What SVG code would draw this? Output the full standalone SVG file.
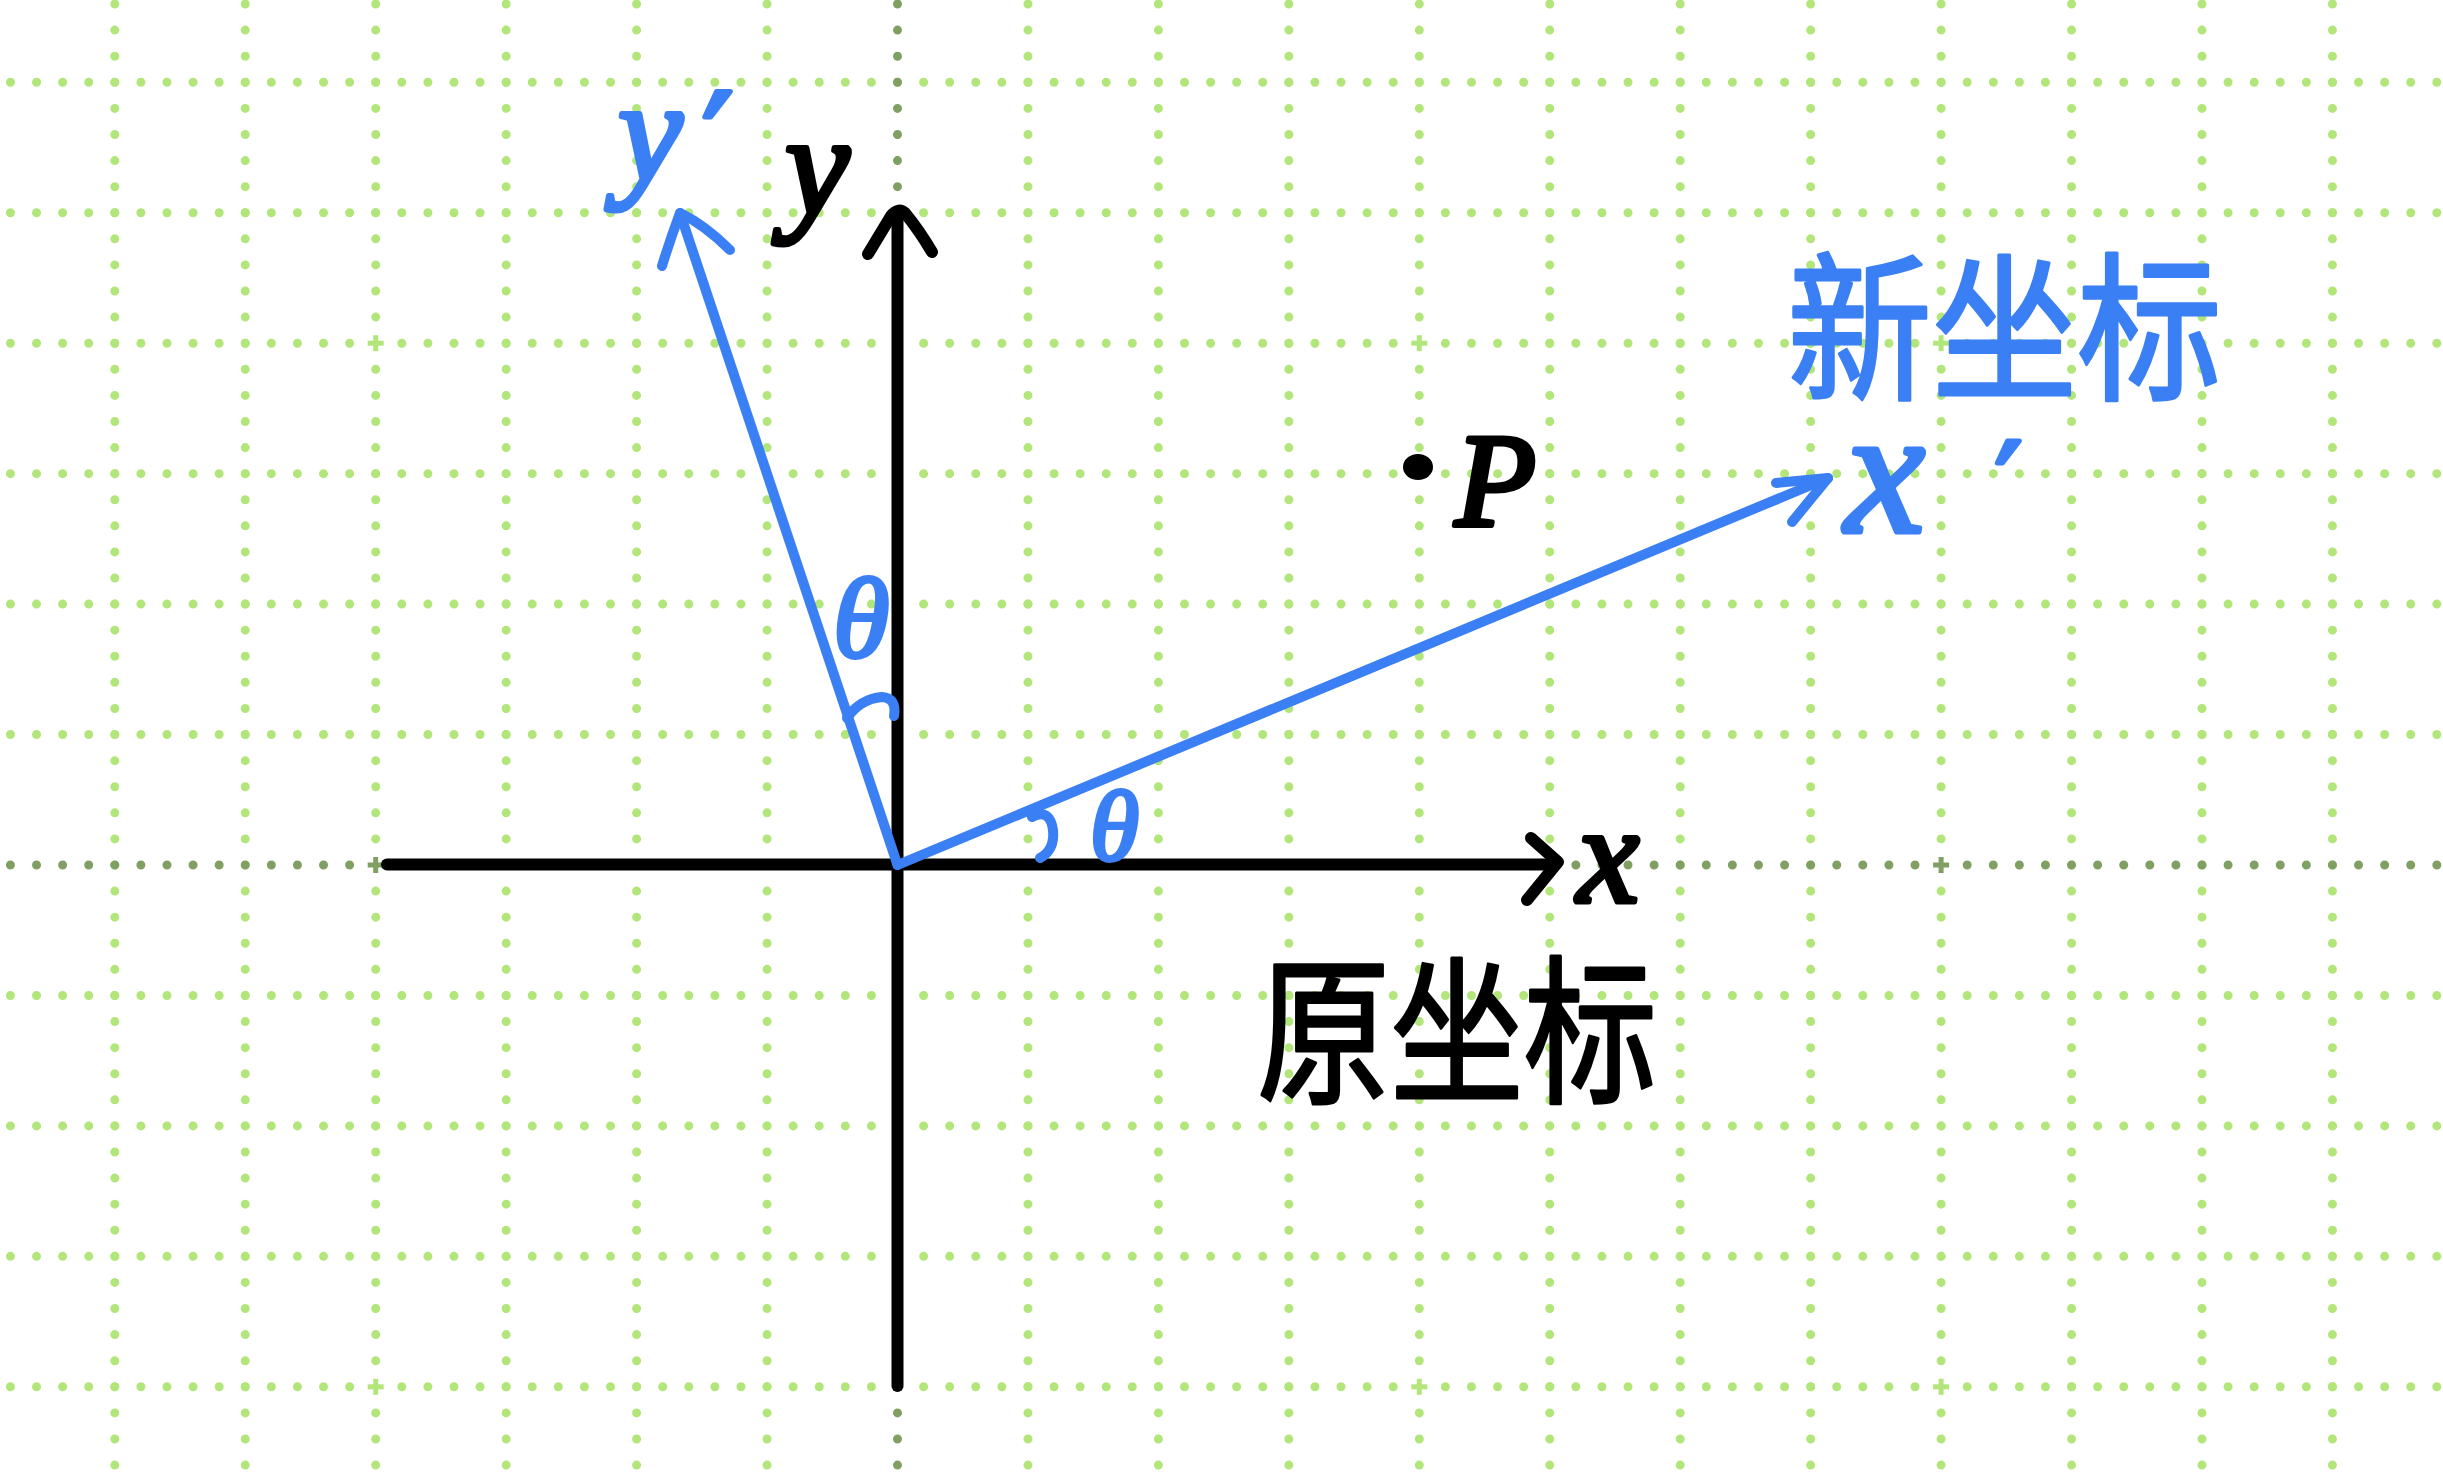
<svg xmlns="http://www.w3.org/2000/svg" width="2443" height="1477" viewBox="0 0 2443 1477">
<style>
.gl{stroke:#b2e67b;stroke-width:9;stroke-linecap:round;stroke-dasharray:0 26.09;fill:none}
.gd{stroke:#80a063;stroke-width:9;stroke-linecap:round;stroke-dasharray:0 26.09;fill:none}
.ax{stroke:#000;stroke-width:12;stroke-linecap:round;stroke-linejoin:round;fill:none}
.bl{stroke:#3a7ff3;stroke-width:10;stroke-linecap:round;stroke-linejoin:round;fill:none}
.lt{font-family:'Liberation Serif',serif;font-style:italic;stroke-linejoin:round}
.pr{font-family:'DejaVu Sans',sans-serif;font-style:normal}
.cjk{font-family:'Noto Sans CJK SC','Noto Sans CJK JP',sans-serif;stroke-linejoin:round}
.k{fill:#000;stroke:#000}
.b{fill:#3a7ff3;stroke:#3a7ff3}
</style>
<defs>
<g id="pl"><circle r="7" fill="#fff"/><rect x="-8" y="-2.5" width="16" height="5"/><rect x="-2.5" y="-8" width="5" height="16"/></g>
</defs>
<rect width="2443" height="1477" fill="#fff"/>
<g id="grid">
<line class="gl" x1="10.44" y1="82.3" x2="2450" y2="82.3"/>
<line class="gl" x1="10.44" y1="212.75" x2="2450" y2="212.75"/>
<line class="gl" x1="10.44" y1="343.2" x2="2450" y2="343.2"/>
<line class="gl" x1="10.44" y1="473.65" x2="2450" y2="473.65"/>
<line class="gl" x1="10.44" y1="604.1" x2="2450" y2="604.1"/>
<line class="gl" x1="10.44" y1="734.55" x2="2450" y2="734.55"/>
<line class="gl" x1="10.44" y1="995.45" x2="2450" y2="995.45"/>
<line class="gl" x1="10.44" y1="1125.9" x2="2450" y2="1125.9"/>
<line class="gl" x1="10.44" y1="1256.35" x2="2450" y2="1256.35"/>
<line class="gl" x1="10.44" y1="1386.8" x2="2450" y2="1386.8"/>
<line class="gl" x1="114.8" y1="4.03" x2="114.8" y2="1480"/>
<line class="gl" x1="245.25" y1="4.03" x2="245.25" y2="1480"/>
<line class="gl" x1="375.7" y1="4.03" x2="375.7" y2="1480"/>
<line class="gl" x1="506.15" y1="4.03" x2="506.15" y2="1480"/>
<line class="gl" x1="636.6" y1="4.03" x2="636.6" y2="1480"/>
<line class="gl" x1="767.05" y1="4.03" x2="767.05" y2="1480"/>
<line class="gl" x1="1027.95" y1="4.03" x2="1027.95" y2="1480"/>
<line class="gl" x1="1158.4" y1="4.03" x2="1158.4" y2="1480"/>
<line class="gl" x1="1288.85" y1="4.03" x2="1288.85" y2="1480"/>
<line class="gl" x1="1419.3" y1="4.03" x2="1419.3" y2="1480"/>
<line class="gl" x1="1549.75" y1="4.03" x2="1549.75" y2="1480"/>
<line class="gl" x1="1680.2" y1="4.03" x2="1680.2" y2="1480"/>
<line class="gl" x1="1810.65" y1="4.03" x2="1810.65" y2="1480"/>
<line class="gl" x1="1941.1" y1="4.03" x2="1941.1" y2="1480"/>
<line class="gl" x1="2071.55" y1="4.03" x2="2071.55" y2="1480"/>
<line class="gl" x1="2202" y1="4.03" x2="2202" y2="1480"/>
<line class="gl" x1="2332.45" y1="4.03" x2="2332.45" y2="1480"/>
<line class="gd" x1="10.44" y1="865" x2="2450" y2="865"/>
<line class="gd" x1="897.5" y1="4.03" x2="897.5" y2="1480"/>
<use href="#pl" x="375.7" y="343.2" fill="#b2e67b"/>
<use href="#pl" x="1419.3" y="343.2" fill="#b2e67b"/>
<use href="#pl" x="1941.1" y="343.2" fill="#b2e67b"/>
<use href="#pl" x="375.7" y="865" fill="#80a063"/>
<use href="#pl" x="1941.1" y="865" fill="#80a063"/>
<use href="#pl" x="375.7" y="1386.8" fill="#b2e67b"/>
<use href="#pl" x="1419.3" y="1386.8" fill="#b2e67b"/>
<use href="#pl" x="1941.1" y="1386.8" fill="#b2e67b"/>
</g>
<g id="connectors">
<path class="ax" d="M897.5 1386 V212"/>
<path class="ax" d="M868 254 L891 216 Q898 207 905 213 Q919 230 932 252"/>
<path class="ax" d="M387 864.5 H1552"/>
<path class="ax" d="M1531 838 L1558 862 L1527 900"/>
<path class="bl" d="M897.5 865 L680 213"/>
<path class="bl" d="M662 266 Q670 240 680 213 Q705 225 730 250"/>
<path class="bl" d="M897.5 865 L1828 478"/>
<path class="bl" d="M1776 483 L1828 478 L1792 522"/>
<path class="bl" d="M847 718 Q860 699 882 697 Q897 698 894 716"/>
<path class="bl" d="M1032 817 Q1050 808 1053 830 Q1055 850 1040 858"/>
</g>
<g id="label-y"><text class="lt k" x="785" y="214" font-size="145" stroke-width="5">y</text></g>
<g id="label-x"><text class="lt k" x="1577" y="902" font-size="140" stroke-width="5">x</text></g>
<g id="label-y-prime"><text class="lt b" x="618" y="180" font-size="145" stroke-width="5">y<tspan class="pr" x="702" y="194" font-size="140">′</tspan></text></g>
<g id="label-x-prime"><text class="lt b" x="1845" y="532" font-size="180" stroke-width="5">x<tspan class="pr" x="1995" y="528" font-size="120">′</tspan></text></g>
<g id="point-P"><ellipse cx="1418" cy="467" rx="15" ry="13" fill="#000"/><text class="lt k" x="1455" y="525" font-size="133" stroke-width="5">P</text></g>
<g id="theta-y"><text class="lt b" x="833" y="657" font-size="115" stroke-width="4">θ</text></g>
<g id="theta-x"><text class="lt b" x="1090" y="860" font-size="100" stroke-width="4">θ</text></g>
<g id="label-new"><text class="cjk b" x="1787" y="388" font-size="160" textLength="435" lengthAdjust="spacingAndGlyphs" stroke-width="3">新坐标</text></g>
<g id="label-orig"><text class="cjk k" x="1257" y="1091" font-size="160" textLength="400" lengthAdjust="spacingAndGlyphs" stroke-width="3">原坐标</text></g>
</svg>
